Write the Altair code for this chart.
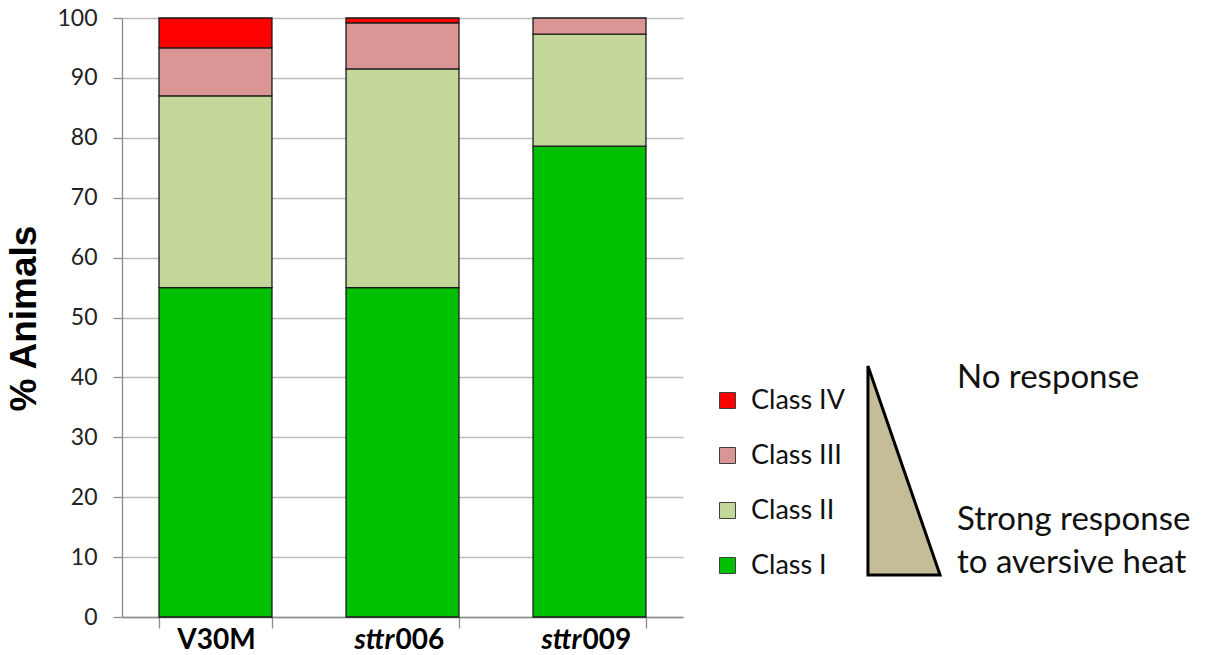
import altair as alt
import pandas as pd

# Percent of animals in each response class, per strain
strains = ["V30M", "sttr006", "sttr009"]
classes = ["Class I", "Class II", "Class III", "Class IV"]
class_i = [55.0, 55.0, 78.6]
class_ii = [32.0, 36.5, 18.7]
class_iii = [8.0, 7.7, 2.7]
class_iv = [5.0, 0.8, 0.0]
colors = ["#00C000", "#C4D79B", "#DA9694", "#FF0000"]

# Axis label pieces: italic gene prefix + plain allele number
label_italic = ["", "sttr", "sttr"]
label_plain = ["V30M", "006", "009"]

rows = []
for s_i, strain in enumerate(strains):
    for c_i, (cls, vals) in enumerate(zip(classes, [class_i, class_ii, class_iii, class_iv])):
        if vals[s_i] > 0:
            rows.append({"strain": strain, "cls": cls, "order": c_i, "pct": vals[s_i]})
df = pd.DataFrame(rows)

labels = pd.DataFrame({"strain": strains, "ital": label_italic, "plain": label_plain})

W, H = 561, 599
FONT = "Lato"

x_scale = alt.Scale(domain=strains, paddingInner=0.396, paddingOuter=0.198)
y_scale = alt.Scale(domain=[0, 100])

bars = alt.Chart(df).mark_bar(stroke="#1a1a1a", strokeWidth=1.3).encode(
    x=alt.X("strain:N", scale=x_scale, sort=strains,
            axis=alt.Axis(title=None, labels=False, tickBand="extent", tickSize=11,
                          domainColor="#8c8c8c", tickColor="#8c8c8c", domainWidth=1.3, tickWidth=1.3)),
    y=alt.Y("pct:Q", stack="zero", scale=y_scale,
            axis=alt.Axis(title="% Animals", values=list(range(0, 101, 10)), tickSize=9,
                          labelPadding=16, labelFontSize=23, labelFont=FONT, labelColor="#222",
                          domainColor="#8c8c8c", tickColor="#8c8c8c", domainWidth=1.3, tickWidth=1.3,
                          gridColor="#bdbdbd", gridWidth=1.3,
                          titleFont="Liberation Sans", titleFontSize=37, titleFontWeight="bold",
                          titleColor="#000", titleX=-79, titleY=300, titleAngle=-90)),
    color=alt.Color("cls:N", scale=alt.Scale(domain=classes, range=colors),
                    legend=alt.Legend(title=None, orient="none", legendX=592, legendY=369,
                                      values=["Class IV", "Class III", "Class II", "Class I"],
                                      symbolType="square", symbolSize=256,
                                      symbolStrokeColor="#404040", symbolStrokeWidth=1,
                                      labelFont=FONT, labelFontSize=27, labelColor="#111",
                                      labelOffset=10, rowPadding=27)),
    order=alt.Order("order:Q", sort="ascending"),
)

# Category labels under the bars
LAB_Y = H + 32
lab_base = alt.Chart(labels)
lab_v = lab_base.transform_filter(alt.datum.ital == "").mark_text(
    font=FONT, fontSize=28, fontWeight="bold", align="center", baseline="alphabetic", color="#000", dx=1
).encode(x=alt.X("strain:N", scale=x_scale, sort=strains), y=alt.value(LAB_Y), text="plain:N")
lab_i = lab_base.transform_filter(alt.datum.ital != "").mark_text(
    font=FONT, fontSize=28, fontWeight="bold", fontStyle="italic", align="right",
    baseline="alphabetic", color="#000", dx=-8
).encode(x=alt.X("strain:N", scale=x_scale, sort=strains), y=alt.value(LAB_Y), text="ital:N")
lab_p = lab_base.transform_filter(alt.datum.ital != "").mark_text(
    font=FONT, fontSize=28, fontWeight="bold", align="left", baseline="alphabetic", color="#000", dx=-7
).encode(x=alt.X("strain:N", scale=x_scale, sort=strains), y=alt.value(LAB_Y), text="plain:N")

# Wedge indicating response strength, next to the legend
wedge_df = pd.DataFrame({"k": ["wedge"]})
wedge = alt.Chart(wedge_df).mark_point(
    shape="M -0.345 -1 L -0.345 1 L 0.345 1 Z", filled=True, fill="#C4BD97",
    stroke="#000", strokeWidth=3, opacity=1
).encode(x=alt.value(904 - 122), y=alt.value(470.5 - 18), size=alt.value(209 * 209))

notes = pd.DataFrame({
    "t": ["No response", "Strong response", "to aversive heat"],
    "yy": [370, 512, 555],
})
note_text = alt.Chart(notes).mark_text(
    font=FONT, fontSize=33, align="left", baseline="alphabetic", color="#111"
).encode(x=alt.value(957 - 122),
         y=alt.Y("yy:Q", scale=alt.Scale(domain=[0, H], range=[0, H]), axis=None),
         text="t:N")

chart = alt.layer(bars, lab_v, lab_i, lab_p, wedge).properties(width=W, height=H)
chart = alt.layer(chart, note_text).resolve_scale(y="independent").properties(
    autosize=alt.AutoSizeParams(type="none"),
    padding={"left": 122, "top": 18, "right": 1214 - 122 - W, "bottom": 655 - 18 - H},
).configure_view(stroke=None).configure_axis(grid=False).configure_axisY(grid=True)

chart.save("out.html", embed_options={"renderer": "svg", "actions": False})
